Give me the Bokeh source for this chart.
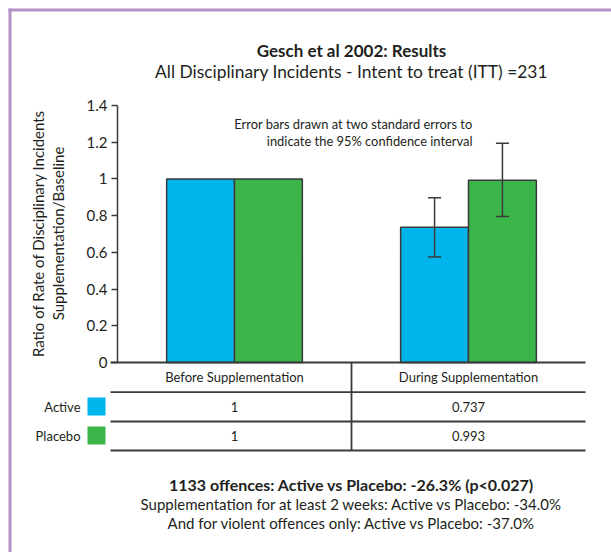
import math
from bokeh.plotting import figure
from bokeh.models import (Range1d, FixedTicker, ColumnDataSource, Whisker, TeeHead, LinearAxis)
from bokeh.core.properties import value
from bokeh.embed import file_html
from bokeh.resources import INLINE

# ---------------- data ----------------
title_text = "Gesch et al 2002: Results"
subtitle_text = "All Disciplinary Incidents - Intent to treat (ITT) =231"
note_lines = ["Error bars drawn at two standard errors to",
              "indicate the 95% confidence interval"]
categories = ["Before Supplementation", "During Supplementation"]
series_names = ["Active", "Placebo"]
active = [1.0, 0.737]
placebo = [1.0, 0.993]
active_lower = [None, 0.575]
active_upper = [None, 0.897]
placebo_lower = [None, 0.795]
placebo_upper = [None, 1.194]
y_ticks = [0, 0.2, 0.4, 0.6, 0.8, 1.0, 1.2, 1.4]
y_tick_labels = ["0", "0.2", "0.4", "0.6", "0.8", "1", "1.2", "1.4"]
y_label_lines = ["Ratio of Rate of Disciplinary Incidents", "Supplementation/Baseline"]
footer_lines = ["1133 offences: Active vs Placebo: -26.3% (p<0.027)",
                "Supplementation for at least 2 weeks: Active vs Placebo: -34.0%",
                "And for violent offences only: Active vs Placebo: -37.0%"]

# ---------------- style / layout ----------------
FONT = "Lato"
TXT = "#231f20"
LINE = "#3a3a3a"
BLUE = "#00b4ec"
GREEN = "#3bb54a"
PURPLE = "#b592c7"

W, H = 611, 552
AX_X = 117            # x of the value axis (page px)
CAT_R = 585           # right end of the category band (page px)
Y0_PAGE, Y14_PAGE = 362, 105
PPU = (Y0_PAGE - Y14_PAGE) / 1.4
XPU = (CAT_R - AX_X) / 2.0


def dy(py):
    return (Y0_PAGE - py) / PPU


def dx(px):
    return (px - AX_X) / XPU


p = figure(width=W, height=H, x_range=Range1d(dx(0), dx(W)),
           y_range=Range1d(dy(H), dy(0)),
           output_backend="svg", toolbar_location=None,
           x_axis_location=None, y_axis_location=None,
           min_border=0, min_border_left=0, min_border_right=0,
           min_border_top=0, min_border_bottom=0,
           background_fill_color="white", border_fill_color="white",
           outline_line_color=None)
p.grid.visible = False

yax = LinearAxis(fixed_location=dx(AX_X), bounds=(0, 1.4),
                 ticker=FixedTicker(ticks=y_ticks))
yax.major_label_overrides = {t: l for t, l in zip(y_ticks, y_tick_labels)}
yax.minor_tick_line_color = None
yax.major_tick_in = 0
yax.major_tick_out = 6
yax.major_label_standoff = 4
yax.axis_line_color = LINE
yax.axis_line_width = 1.5
yax.major_tick_line_color = LINE
yax.major_tick_line_width = 1.5
yax.major_label_text_font = FONT
yax.major_label_text_font_size = "15px"
yax.major_label_text_color = TXT
p.add_layout(yax, "left")

# ---------------- purple frame (left + top edges) ----------------
p.quad(left=[dx(8), dx(8)], right=[dx(11), dx(W + 5)],
       top=[dy(8), dy(8)], bottom=[dy(H + 5), dy(11)],
       fill_color=PURPLE, line_color=None)

# ---------------- bars ----------------
bw = 0.29
cat_x = [0.5 + i for i in range(len(categories))]
p.vbar(x=[c - bw / 2 for c in cat_x], top=active, bottom=0, width=bw,
       fill_color=BLUE, line_color=LINE, line_width=1.5)
p.vbar(x=[c + bw / 2 for c in cat_x], top=placebo, bottom=0, width=bw,
       fill_color=GREEN, line_color=LINE, line_width=1.5)

# ---------------- error bars ----------------
eb_x, eb_lo, eb_hi = [], [], []
for i, c in enumerate(cat_x):
    if active_lower[i] is not None:
        eb_x.append(c - bw / 2); eb_lo.append(active_lower[i]); eb_hi.append(active_upper[i])
    if placebo_lower[i] is not None:
        eb_x.append(c + bw / 2); eb_lo.append(placebo_lower[i]); eb_hi.append(placebo_upper[i])
err_src = ColumnDataSource(dict(base=eb_x, lower=eb_lo, upper=eb_hi))
p.add_layout(Whisker(source=err_src, base="base", lower="lower", upper="upper",
                     dimension="height", line_color=LINE, line_width=1.5, level="overlay",
                     upper_head=TeeHead(size=13, line_color=LINE, line_width=1.5),
                     lower_head=TeeHead(size=13, line_color=LINE, line_width=1.5)))

# ---------------- table ----------------
row_lines_page = [362, 391.7, 421, 450]
p.segment(x0=[dx(110)] * len(row_lines_page), x1=[dx(CAT_R)] * len(row_lines_page),
          y0=[dy(v) for v in row_lines_page], y1=[dy(v) for v in row_lines_page],
          line_color=LINE, line_width=1.8)
p.segment(x0=[1], y0=[0], x1=[1], y1=[dy(450)], line_color=LINE, line_width=1.8)

p.text(x=cat_x, y=[dy(376)] * len(cat_x), text=categories,
       text_font=value(FONT), text_font_size=value("13px"), text_color=TXT,
       text_align="center", text_baseline="middle")
row_y_page = [406, 435]
for vals, ry in zip([active, placebo], row_y_page):
    p.text(x=cat_x, y=[dy(ry)] * len(cat_x), text=[f"{v:g}" for v in vals],
           text_font=value(FONT), text_font_size=value("13px"), text_color=TXT,
           text_align="center", text_baseline="middle")

p.text(x=[dx(80)] * len(series_names), y=[dy(v) for v in row_y_page], text=series_names,
       text_font=value(FONT), text_font_size=value("13px"), text_color=TXT,
       text_align="right", text_baseline="middle")
p.quad(left=[dx(87)] * 2, right=[dx(105)] * 2,
       top=[dy(v - 9) for v in row_y_page], bottom=[dy(v + 9) for v in row_y_page],
       fill_color=[BLUE, GREEN], line_color=None)

# ---------------- y label ----------------
p.text(x=[dx(37), dx(57)], y=[dy(233)] * 2, text=y_label_lines, angle=math.pi / 2,
       text_font=value(FONT), text_font_size=value("15px"), text_color=TXT,
       text_align="center", text_baseline="middle")

# ---------------- titles / notes ----------------
p.text(x=[1.0], y=[dy(50)], text=[title_text], text_font=value(FONT),
       text_font_size=value("17px"), text_font_style="bold", text_color=TXT,
       text_align="center", text_baseline="middle")
p.text(x=[1.0], y=[dy(71)], text=[subtitle_text], text_font=value(FONT),
       text_font_size=value("17.4px"), text_color=TXT,
       text_align="center", text_baseline="middle")
p.text(x=[dx(472)] * 2, y=[dy(123), dy(140)], text=note_lines, text_font=value(FONT),
       text_font_size=value("12.9px"), text_color=TXT,
       text_align="right", text_baseline="middle")

foot_y = [484, 503, 522]
foot_size = ["16px", "15px", "15px"]
for i, (t, fy, fs) in enumerate(zip(footer_lines, foot_y, foot_size)):
    p.text(x=[1.0], y=[dy(fy)], text=[t], text_font=value(FONT),
           text_font_size=value(fs), text_font_style="bold" if i == 0 else "normal",
           text_color=TXT, text_align="center", text_baseline="middle")

open("out.html", "w").write(file_html(p, INLINE))
